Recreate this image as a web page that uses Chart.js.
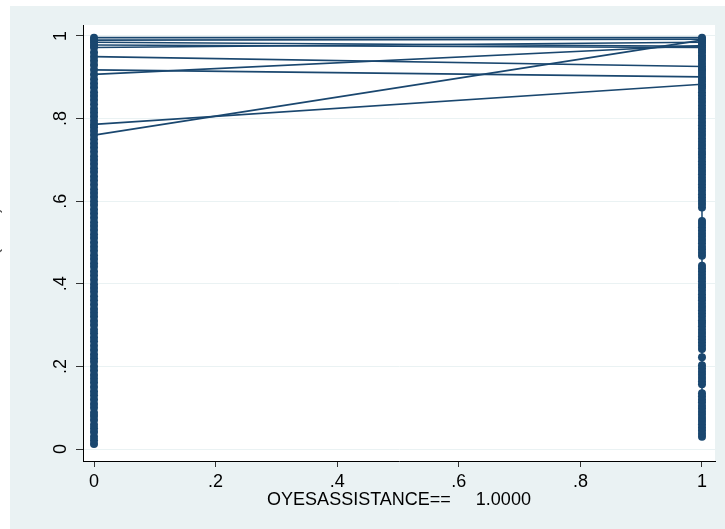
<!DOCTYPE html>
<html>
<head>
<meta charset="utf-8">
<script src="https://cdn.jsdelivr.net/npm/chart.js@4/dist/chart.umd.min.js"></script>
<style>
  html, body { margin: 0; padding: 0; background: #ffffff; }
  canvas { display: block; }
</style>
</head>
<body>
<canvas id="chart" width="725" height="529"></canvas>
<script>
// Observed predicted values at OYESASSISTANCE == 0
var col0Values = [0.012, 0.021, 0.03, 0.041, 0.05, 0.059, 0.07, 0.08, 0.088, 0.1,
  0.109, 0.12, 0.13, 0.139, 0.15, 0.161, 0.17, 0.179, 0.19, 0.2,
  0.211, 0.22, 0.229, 0.24, 0.25, 0.261, 0.27, 0.28, 0.289, 0.3,
  0.31, 0.321, 0.33, 0.339, 0.35, 0.36, 0.37, 0.381, 0.39, 0.399,
  0.41, 0.42, 0.43, 0.441, 0.45, 0.46, 0.469, 0.48, 0.49, 0.5,
  0.511, 0.52, 0.53, 0.54, 0.549, 0.56, 0.57, 0.58, 0.591, 0.6,
  0.61, 0.62, 0.629, 0.64, 0.65, 0.66, 0.671, 0.68, 0.69, 0.7,
  0.709, 0.72, 0.73, 0.74, 0.75, 0.76, 0.77, 0.779, 0.786, 0.795,
  0.805, 0.815, 0.824, 0.835, 0.845, 0.855, 0.864, 0.875, 0.885, 0.895,
  0.907, 0.918, 0.93, 0.94, 0.95, 0.96, 0.972, 0.978, 0.985, 0.99, 0.996];

// Observed predicted values at OYESASSISTANCE == 1
var col1Values = [0.03, 0.037, 0.045, 0.052, 0.06, 0.068, 0.075, 0.083, 0.09, 0.098,
  0.105, 0.113, 0.12, 0.128, 0.135,
  0.157, 0.164, 0.172, 0.18, 0.187, 0.195, 0.203, 0.222,
  0.242, 0.25, 0.258, 0.266, 0.273, 0.281, 0.289, 0.297, 0.305, 0.312, 0.32,
  0.328, 0.336, 0.344, 0.352, 0.36, 0.367, 0.375, 0.383, 0.391, 0.398, 0.406,
  0.414, 0.422, 0.43, 0.437, 0.444,
  0.468, 0.475, 0.483, 0.49, 0.498, 0.506, 0.514, 0.521, 0.529, 0.537, 0.545, 0.552,
  0.585, 0.593, 0.601, 0.609, 0.617, 0.625, 0.633, 0.641, 0.649, 0.657, 0.665,
  0.673, 0.681, 0.689, 0.697, 0.705, 0.713, 0.72, 0.728, 0.736, 0.744, 0.752,
  0.76, 0.768, 0.776, 0.784, 0.792, 0.8, 0.808, 0.816, 0.824, 0.832, 0.84,
  0.848, 0.856, 0.864, 0.872, 0.878, 0.883, 0.89, 0.896, 0.901, 0.908, 0.915,
  0.92, 0.926, 0.933, 0.94, 0.947, 0.953, 0.96, 0.966, 0.972, 0.977, 0.983,
  0.988, 0.992, 0.996];

// Observations that run from x = 0 to x = 1
var pairStart = [0.996, 0.99, 0.985, 0.978, 0.972, 0.95, 0.918, 0.907, 0.786, 0.76];
var pairEnd   = [0.996, 0.992, 0.975, 0.972, 0.985, 0.926, 0.901, 0.977, 0.883, 0.99];

// Axis ticks
var xTicks = [0, 0.2, 0.4, 0.6, 0.8, 1];
var xTickLabels = ['0', '.2', '.4', '.6', '.8', '1'];
var yTicks = [0, 0.2, 0.4, 0.6, 0.8, 1];
var yTickLabels = ['0', '.2', '.4', '.6', '.8', '1'];

var navy = '#1a476f';
var fontFamily = '"Liberation Sans", Arial, sans-serif';

var datasets = [];
datasets.push({
  data: col0Values.map(function (v) { return { x: 0, y: v }; }),
  showLine: true,
  borderColor: navy,
  backgroundColor: navy,
  borderWidth: 1.5,
  pointRadius: 4,
  pointBorderWidth: 0
});
datasets.push({
  data: col1Values.map(function (v) { return { x: 1, y: v }; }),
  showLine: true,
  borderColor: navy,
  backgroundColor: navy,
  borderWidth: 1.5,
  pointRadius: 4,
  pointBorderWidth: 0
});
for (var i = 0; i < pairStart.length; i++) {
  datasets.push({
    data: [{ x: 0, y: pairStart[i] }, { x: 1, y: pairEnd[i] }],
    showLine: true,
    borderColor: navy,
    backgroundColor: navy,
    borderWidth: 1.6,
    pointRadius: 0
  });
}

// Stata-like background: light frame with white plot region
var backgroundPlugin = {
  id: 'stataBackground',
  beforeDraw: function (chart) {
    var ctx = chart.ctx;
    var a = chart.chartArea;
    ctx.save();
    ctx.fillStyle = '#ffffff';
    ctx.fillRect(0, 0, chart.width, chart.height);
    ctx.fillStyle = '#eaf2f3';
    ctx.fillRect(10, 6, chart.width - 10, chart.height - 6);
    ctx.fillStyle = '#ffffff';
    ctx.fillRect(a.left, a.top, a.right - a.left, a.bottom - a.top);
    ctx.restore();
  },
  afterDraw: function (chart) {
    // y title, mostly cut off at the left edge
    var ctx = chart.ctx;
    ctx.save();
    ctx.translate(-7, 240);
    ctx.rotate(-Math.PI / 2);
    ctx.font = '18px ' + fontFamily;
    ctx.fillStyle = '#555555';
    ctx.textAlign = 'center';
    ctx.textBaseline = 'middle';
    ctx.fillText('Pr(YES)', 0, 0);
    ctx.restore();
  }
};

new Chart(document.getElementById('chart'), {
  type: 'scatter',
  data: { datasets: datasets },
  plugins: [backgroundPlugin],
  options: {
    responsive: false,
    animation: false,
    layout: { padding: { left: 10, top: 25, right: 10, bottom: 0 } },
    plugins: {
      legend: { display: false },
      tooltip: { enabled: false }
    },
    scales: {
      x: {
        type: 'linear',
        min: -0.0181,
        max: 1.0214,
        afterBuildTicks: function (scale) {
          scale.ticks = xTicks.map(function (v) { return { value: v }; });
        },
        afterFit: function (scale) { scale.height = 68; },
        border: { color: '#000000', width: 1 },
        grid: { drawOnChartArea: false, drawTicks: true, tickLength: 6, tickColor: '#333333', tickWidth: 1 },
        ticks: {
          color: '#000000',
          font: { family: fontFamily, size: 18 },
          padding: 4,
          maxRotation: 0,
          callback: function (value) {
            var idx = xTicks.indexOf(value);
            return idx >= 0 ? xTickLabels[idx] : '';
          }
        },
        title: {
          display: true,
          text: 'OYESASSISTANCE==     1.0000',
          color: '#000000',
          font: { family: fontFamily, size: 18 },
          padding: { top: 0, bottom: 18 }
        }
      },
      y: {
        type: 'linear',
        min: -0.029,
        max: 1.0266,
        afterBuildTicks: function (scale) {
          scale.ticks = yTicks.map(function (v) { return { value: v }; });
        },
        afterFit: function (scale) { scale.width = 73; },
        border: { color: '#000000', width: 1 },
        grid: { color: '#eaf2f3', lineWidth: 1, drawTicks: true, tickLength: 7, tickColor: '#333333', tickWidth: 1 },
        ticks: {
          color: '#000000',
          font: { family: fontFamily, size: 18 },
          padding: 7,
          minRotation: 90,
          maxRotation: 90,
          crossAlign: 'center',
          callback: function (value) {
            var idx = yTicks.indexOf(value);
            return idx >= 0 ? yTickLabels[idx] : '';
          }
        }
      }
    }
  }
});
</script>
</body>
</html>
